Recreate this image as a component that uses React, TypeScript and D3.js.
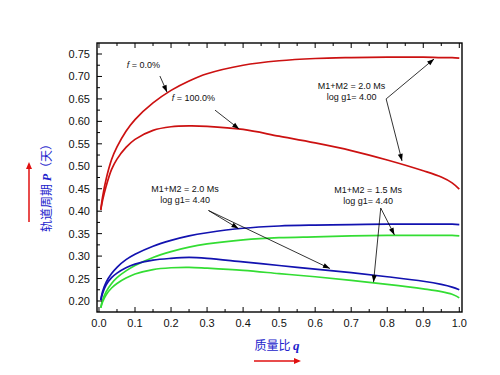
import React from 'react';
import * as d3 from 'd3';

// mass ratio grid shared by all curves
const qValues = [0.005, 0.01, 0.02, 0.035, 0.05, 0.075, 0.1, 0.15, 0.2, 0.25, 0.3, 0.4, 0.5, 0.6, 0.7, 0.8, 0.9, 0.95, 0.98, 1.0];

// orbital period P (days)
const redF0 = [0.403, 0.432, 0.472, 0.515, 0.543, 0.578, 0.604, 0.641, 0.669, 0.69, 0.706, 0.725, 0.735, 0.74, 0.742, 0.743, 0.743, 0.742, 0.742, 0.741];
const redF100 = [0.403, 0.424, 0.456, 0.493, 0.516, 0.542, 0.56, 0.58, 0.588, 0.59, 0.589, 0.582, 0.567, 0.552, 0.535, 0.514, 0.49, 0.476, 0.463, 0.449];
const blueF0 = [0.202, 0.221, 0.242, 0.261, 0.275, 0.292, 0.304, 0.322, 0.335, 0.345, 0.352, 0.362, 0.367, 0.369, 0.37, 0.371, 0.371, 0.371, 0.371, 0.37];
const blueF100 = [0.202, 0.217, 0.236, 0.252, 0.262, 0.274, 0.282, 0.291, 0.295, 0.297, 0.295, 0.287, 0.279, 0.271, 0.263, 0.254, 0.244, 0.237, 0.231, 0.225];
const greenF0 = [0.185, 0.202, 0.221, 0.239, 0.252, 0.267, 0.279, 0.297, 0.31, 0.32, 0.327, 0.336, 0.341, 0.343, 0.345, 0.346, 0.346, 0.346, 0.346, 0.345];
const greenF100 = [0.185, 0.198, 0.214, 0.229, 0.239, 0.251, 0.26, 0.27, 0.274, 0.275, 0.273, 0.268, 0.261, 0.254, 0.246, 0.237, 0.227, 0.221, 0.215, 0.207];

const xTicks = [0, 0.1, 0.2, 0.3, 0.4, 0.5, 0.6, 0.7, 0.8, 0.9, 1.0];
const yTicks = [0.2, 0.25, 0.3, 0.35, 0.4, 0.45, 0.5, 0.55, 0.6, 0.65, 0.7, 0.75];

const RED = '#cc1111';
const BLUE = '#1212b0';
const GREEN = '#33dd33';

const series = [
  { values: redF0, color: RED },
  { values: redF100, color: RED },
  { values: greenF0, color: GREEN },
  { values: greenF100, color: GREEN },
  { values: blueF0, color: BLUE },
  { values: blueF100, color: BLUE },
];

// annotations in data units: text lines and arrows [fromQ, fromP, toQ, toP]
const labels = [
  { q: 0.123, p: 0.719, lines: ['f = 0.0%'], italicF: true },
  { q: 0.262, p: 0.645, lines: ['f = 100.0%'], italicF: true },
  { q: 0.701, p: 0.672, lines: ['M1+M2 = 2.0 Ms', 'log g1= 4.00'] },
  { q: 0.239, p: 0.4427, lines: ['M1+M2 = 2.0 Ms', 'log g1= 4.40'] },
  { q: 0.747, p: 0.4404, lines: ['M1+M2 = 1.5 Ms', 'log g1= 4.40'] },
];
const arrows = [
  [0.169, 0.701, 0.189, 0.665],
  [0.322, 0.625, 0.389, 0.583],
  [0.797, 0.65, 0.93, 0.739],
  [0.797, 0.65, 0.841, 0.512],
  [0.304, 0.4015, 0.387, 0.3614],
  [0.304, 0.4015, 0.641, 0.2723],
  [0.782, 0.407, 0.82, 0.347],
  [0.782, 0.407, 0.762, 0.242],
];

const W = 500;
const H = 375;
const left = 97, right = 462, top = 43, bottom = 312;

const head = (x1: number, y1: number, x2: number, y2: number, len: number, half: number) => {
  const a = Math.atan2(y2 - y1, x2 - x1);
  const bx = x2 - len * Math.cos(a), by = y2 - len * Math.sin(a);
  const px = -Math.sin(a) * half, py = Math.cos(a) * half;
  return `M${x2},${y2}L${bx + px},${by + py}L${bx - px},${by - py}Z`;
};

export default function App() {
  const x = d3.scaleLinear().domain([-0.0055, 1.0075]).range([left, right]);
  const y = d3.scaleLinear().domain([0.1755, 0.7745]).range([bottom, top]);

  const line = d3
    .line<number>()
    .x((_, i) => x(qValues[i]))
    .y((d) => y(d))
    .curve(d3.curveCatmullRom.alpha(0.5));

  const xMinor = d3.range(0, 1.0001, 0.05);
  const yMinor = d3.range(0.2, 0.7501, 0.025);
  const font = '"Liberation Sans", Arial, sans-serif';

  return (
    <svg width={W} height={H} style={{ position: 'absolute', left: 0, top: 0, background: '#fff' }}>
      <defs>
        <clipPath id="plot">
          <rect x={left} y={top} width={right - left} height={bottom - top} />
        </clipPath>
      </defs>

      {/* curves */}
      <g clipPath="url(#plot)">
        {series.map((s, i) => (
          <path key={i} d={line(s.values)!} fill="none" stroke={s.color} strokeWidth={1.7} />
        ))}
      </g>

      {/* ticks, inward on bottom/top/left */}
      <g stroke="#000" strokeWidth={1}>
        {xMinor.map((t, i) => {
          const major = i % 2 === 0;
          const len = major ? 5 : 3;
          return (
            <g key={'x' + i}>
              <line x1={x(t)} x2={x(t)} y1={bottom} y2={bottom - len} />
              <line x1={x(t)} x2={x(t)} y1={top} y2={top + len} />
            </g>
          );
        })}
        {yMinor.map((t, i) => {
          const major = i % 2 === 0;
          const len = major ? 5 : 3;
          return <line key={'y' + i} x1={left} x2={left + len} y1={y(t)} y2={y(t)} />;
        })}
      </g>

      <rect x={left} y={top} width={right - left} height={bottom - top} fill="none" stroke="#000" strokeWidth={1.4} />

      {/* tick labels */}
      <g fontFamily={font} fontSize={11} fill="#111">
        {xTicks.map((t) => (
          <text key={t} x={x(t)} y={327} textAnchor="middle">
            {t.toFixed(1)}
          </text>
        ))}
        {yTicks.map((t) => (
          <text key={t} x={90} y={y(t) + 4} textAnchor="end">
            {t.toFixed(2)}
          </text>
        ))}
      </g>

      {/* annotations */}
      <g fontFamily={font} fontSize={9} fill="#111">
        {labels.map((l, i) =>
          l.lines.map((txt, j) => (
            <text key={i + '-' + j} x={x(l.q)} y={y(l.p) + j * 11} textAnchor="middle">
              {l.italicF ? (
                <>
                  <tspan fontStyle="italic">f</tspan>
                  {txt.slice(1)}
                </>
              ) : (
                txt
              )}
            </text>
          ))
        )}
      </g>
      <g>
        {arrows.map(([q1, p1, q2, p2], i) => {
          const x1 = x(q1), y1 = y(p1), x2 = x(q2), y2 = y(p2);
          return (
            <g key={i}>
              <line x1={x1} y1={y1} x2={x2} y2={y2} stroke="#000" strokeWidth={0.8} />
              <path d={head(x1, y1, x2, y2, 7, 2.5)} fill="#000" />
            </g>
          );
        })}
      </g>

      {/* axis titles */}
      <text
        transform="translate(51,185) rotate(-90)"
        textAnchor="middle"
        fontSize={12}
        fill="#2222cc"
        fontFamily='"Noto Sans CJK SC", sans-serif'
      >
        轨道周期 <tspan fontFamily="Liberation Serif, serif" fontStyle="italic" fontWeight="bold">P</tspan>（天）
      </text>
      <line x1={29} y1={222} x2={29} y2={168} stroke="#e01010" strokeWidth={1.5} />
      <path d={head(29, 222, 29, 162, 7, 3)} fill="#e01010" />

      <text x={277} y={350} textAnchor="middle" fontSize={12} fill="#2222cc" fontFamily='"Noto Sans CJK SC", sans-serif'>
        质量比 <tspan fontFamily="Liberation Serif, serif" fontStyle="italic" fontWeight="bold" fontSize={13}>q</tspan>
      </text>
      <line x1={254} y1={361} x2={295} y2={361} stroke="#e01010" strokeWidth={1.5} />
      <path d={head(254, 361, 301, 361, 7, 3)} fill="#e01010" />
    </svg>
  );
}
